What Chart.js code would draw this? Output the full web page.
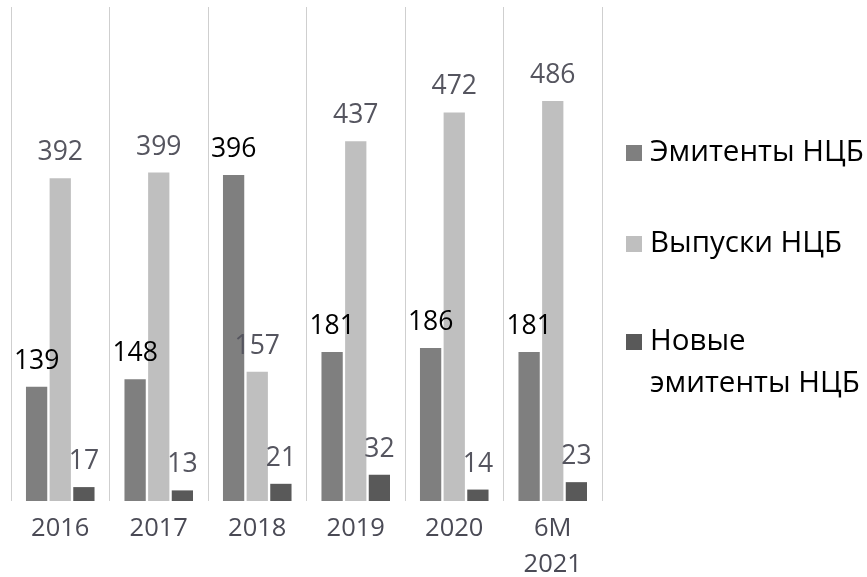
<!DOCTYPE html>
<html>
<head>
<meta charset="utf-8">
<script src="https://cdn.jsdelivr.net/npm/chart.js@4"></script>
<style>
  html, body { margin: 0; padding: 0; background: #fff; }
  #wrap { width: 867px; height: 577px; position: relative; }
</style>
</head>
<body>
<div id="wrap"><canvas id="c"></canvas></div>
<script>
const categories = ['2016', '2017', '2018', '2019', '2020', ['6M', '2021']];
const seriesNames = ['Эмитенты НЦБ', 'Выпуски НЦБ', ['Новые', 'эмитенты НЦБ']];
const emitters = [139, 148, 396, 181, 186, 181];
const issues = [392, 399, 157, 437, 472, 486];
const newEmitters = [17, 13, 21, 32, 14, 23];

const FONT = "'Open Sans', 'Noto Sans', sans-serif";
const barColors = ['#7f7f7f', '#bfbfbf', '#595959'];
const labelColors = ['#000000', '#55555f', '#55555f'];

const valueLabels = {
  id: 'valueLabels',
  afterDatasetsDraw(chart) {
    const ctx = chart.ctx;
    ctx.save();
    ctx.font = '26.5px ' + FONT;
    ctx.textAlign = 'center';
    ctx.textBaseline = 'alphabetic';
    chart.data.datasets.forEach((ds, i) => {
      const meta = chart.getDatasetMeta(i);
      meta.data.forEach((bar, j) => {
        ctx.fillStyle = labelColors[i];
        ctx.fillText(String(ds.data[j]), bar.x, bar.y - 18);
      });
    });
    ctx.restore();
  }
};

const sideLegend = {
  id: 'sideLegend',
  afterDraw(chart) {
    const ctx = chart.ctx;
    const ys = [153, 244, 342];
    ctx.save();
    ctx.font = '29.5px ' + FONT;
    ctx.textBaseline = 'middle';
    ctx.textAlign = 'left';
    chart.data.datasets.forEach((ds, i) => {
      const y = ys[i];
      ctx.fillStyle = barColors[i];
      ctx.fillRect(626, y - 8, 16, 16);
      ctx.fillStyle = '#000';
      const lines = Array.isArray(seriesNames[i]) ? seriesNames[i] : [seriesNames[i]];
      lines.forEach((t, k) => ctx.fillText(t, 650, y + k * 42));
    });
    ctx.restore();
  }
};

new Chart(document.getElementById('c'), {
  type: 'bar',
  data: {
    labels: categories,
    datasets: [
      { label: 'Эмитенты НЦБ', data: emitters, backgroundColor: barColors[0] },
      { label: 'Выпуски НЦБ', data: issues, backgroundColor: barColors[1] },
      { label: 'Новые эмитенты НЦБ', data: newEmitters, backgroundColor: barColors[2] }
    ]
  },
  options: {
    responsive: true,
    maintainAspectRatio: false,
    animation: false,
    devicePixelRatio: 1,
    layout: { padding: { left: 11, right: 265, top: 7, bottom: -15.5 } },
    datasets: { bar: { categoryPercentage: 0.72, barPercentage: 0.9 } },
    plugins: {
      legend: { display: false },
      tooltip: { enabled: false }
    },
    scales: {
      x: {
        grid: { display: true, offset: true, color: '#cfcfcf', lineWidth: 1, drawTicks: false },
        border: { display: false },
        ticks: {
          color: '#4a4a55',
          font: { family: FONT, size: 25.5, lineHeight: 1.4 },
          padding: 10,
          maxRotation: 0
        }
      },
      y: {
        display: false,
        min: 0,
        max: 600
      }
    }
  },
  plugins: [valueLabels, sideLegend]
});
</script>
</body>
</html>
